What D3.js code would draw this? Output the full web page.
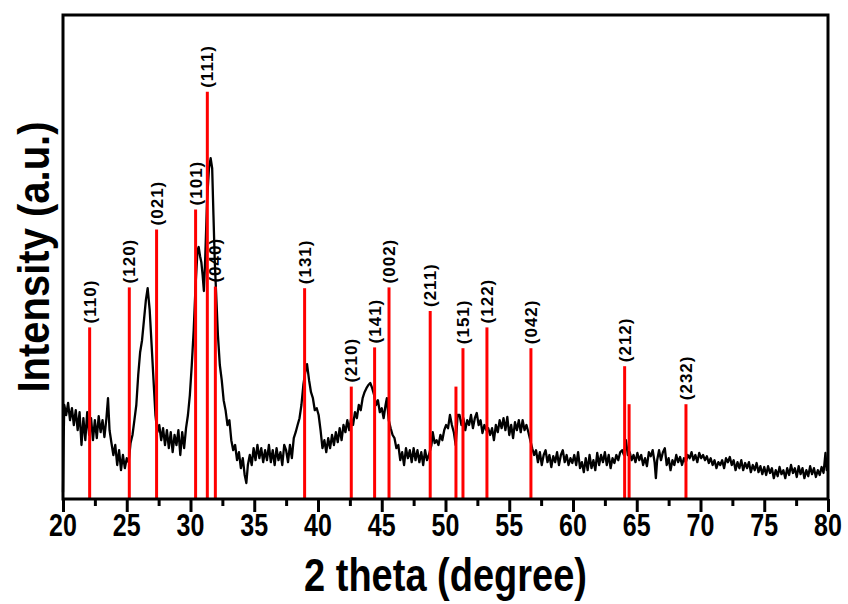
<!DOCTYPE html>
<html>
<head>
<meta charset="utf-8">
<script src="https://cdn.jsdelivr.net/npm/d3@7"></script>
<style>
  body { margin: 0; background: #fff; }
  text { font-family: "Liberation Sans", Arial, sans-serif; font-weight: bold; fill: #000; }
</style>
</head>
<body>
<svg id="chart" width="848" height="604"></svg>
<script>
// measured pattern, [2 theta, intensity]
const pattern = [
  [20.00,17],[20.05,147],[20.10,235],[20.25,210],[20.40,240],[20.55,197],[20.70,227],[20.85,185],[21.00,222],[21.15,172],
  [21.30,217],[21.45,135],[21.60,202],[21.75,147],[21.90,217],[22.05,160],[22.20,202],[22.35,147],[22.50,197],[22.65,152],
  [22.80,207],[22.95,167],[23.10,197],[23.25,155],[23.40,200],[23.53,252],[23.65,172],[23.80,140],[23.95,110],[24.10,135],
  [24.25,85],[24.40,122],[24.55,72],[24.70,110],[24.85,77],[25.00,102],[25.15,92],[25.30,140],[25.45,160],[25.60,197],
  [25.75,235],[25.90,310],[26.05,367],[26.20,397],[26.35,447],[26.50,497],[26.64,527],[26.80,472],[26.95,385],[27.10,297],
  [27.25,210],[27.40,167],[27.55,185],[27.70,147],[27.85,177],[28.00,135],[28.15,172],[28.30,127],[28.45,167],[28.60,117],
  [28.75,160],[28.90,135],[29.05,172],[29.20,110],[29.35,167],[29.50,127],[29.65,177],[29.80,210],[29.95,260],[30.10,335],
  [30.25,422],[30.40,535],[30.55,622],[30.64,630],[30.75,607],[30.85,592],[30.95,560],[31.05,520],[31.15,597],[31.30,747],
  [31.45,827],[31.58,852],[31.70,827],[31.80,710],[31.90,597],[32.00,522],[32.15,410],[32.30,335],[32.45,297],[32.60,247],
  [32.75,222],[32.90,185],[33.05,197],[33.20,147],[33.35,122],[33.50,135],[33.65,97],[33.80,117],[33.95,77],[34.10,102],
  [34.25,60],[34.38,40],[34.50,85],[34.65,110],[34.80,85],[34.95,127],[35.10,97],[35.25,135],[35.40,102],[35.55,127],
  [35.70,92],[35.85,122],[36.00,97],[36.15,135],[36.30,92],[36.45,122],[36.60,85],[36.75,127],[36.90,97],[37.05,117],
  [37.20,85],[37.35,135],[37.50,122],[37.65,92],[37.80,135],[37.95,102],[38.10,152],[38.25,167],[38.40,185],[38.55,202],
  [38.70,235],[38.85,285],[39.00,317],[39.14,337],[39.30,297],[39.45,267],[39.60,252],[39.75,222],[39.90,227],[40.05,210],
  [40.20,172],[40.35,127],[40.50,147],[40.65,117],[40.80,152],[40.95,127],[41.10,160],[41.25,135],[41.40,167],[41.55,142],
  [41.70,177],[41.85,147],[42.00,185],[42.15,167],[42.30,197],[42.45,172],[42.60,202],[42.75,185],[42.90,217],[43.05,202],
  [43.20,235],[43.35,222],[43.50,252],[43.65,267],[43.80,277],[43.95,285],[44.10,290],[44.25,277],[44.40,260],[44.55,235],
  [44.70,247],[44.85,217],[45.00,227],[45.15,202],[45.30,235],[45.40,252],[45.55,197],[45.70,177],[45.85,160],[46.00,152],
  [46.15,127],[46.30,135],[46.45,97],[46.60,117],[46.75,85],[46.90,127],[47.05,102],[47.20,122],[47.35,92],[47.50,127],
  [47.65,97],[47.80,122],[47.95,92],[48.10,117],[48.25,85],[48.40,122],[48.55,97],[48.70,110],[48.90,135],[49.00,167],
  [49.15,140],[49.30,147],[49.45,135],[49.60,160],[49.75,147],[49.90,172],[50.05,185],[50.20,177],[50.35,210],[50.50,185],
  [50.65,167],[50.80,135],[50.95,210],[51.10,210],[51.25,185],[51.40,202],[51.55,172],[51.70,197],[51.85,185],[52.00,210],
  [52.15,177],[52.30,202],[52.45,215],[52.60,185],[52.75,197],[52.90,165],[53.05,185],[53.20,172],[53.35,177],[53.50,160],
  [53.65,177],[53.80,147],[53.95,185],[54.10,167],[54.25,197],[54.40,177],[54.55,202],[54.70,172],[54.85,205],[55.00,160],
  [55.15,185],[55.30,152],[55.45,192],[55.60,172],[55.75,197],[55.90,167],[56.05,197],[56.20,172],[56.35,185],[56.50,167],
  [56.65,147],[56.80,127],[56.95,110],[57.10,122],[57.25,92],[57.40,117],[57.55,85],[57.70,110],[57.85,122],[58.00,92],
  [58.15,110],[58.30,80],[58.45,107],[58.60,92],[58.75,117],[58.90,85],[59.05,110],[59.20,122],[59.35,92],[59.50,110],
  [59.65,85],[59.80,102],[59.95,90],[60.10,110],[60.25,85],[60.40,117],[60.55,77],[60.70,92],[60.85,67],[61.00,102],
  [61.15,72],[61.30,110],[61.45,77],[61.60,97],[61.75,72],[61.90,115],[62.05,85],[62.20,110],[62.35,92],[62.50,117],
  [62.65,85],[62.80,110],[62.95,77],[63.10,102],[63.25,90],[63.40,110],[63.55,97],[63.70,117],[63.85,122],[64.00,110],
  [64.15,147],[64.30,110],[64.45,117],[64.60,97],[64.75,110],[64.90,92],[65.05,115],[65.20,97],[65.35,110],[65.50,85],
  [65.65,102],[65.80,82],[65.95,117],[66.10,107],[66.25,122],[66.40,92],[66.50,52],[66.60,97],[66.75,122],[66.90,97],
  [67.05,117],[67.20,127],[67.35,85],[67.50,102],[67.65,72],[67.80,97],[67.95,85],[68.10,110],[68.25,92],[68.40,105],
  [68.55,85],[68.70,102],[68.85,92],[69.00,110],[69.15,102],[69.30,117],[69.45,97],[69.60,110],[69.75,92],[69.90,115],
  [70.05,102],[70.20,110],[70.35,97],[70.50,107],[70.65,90],[70.80,102],[70.95,85],[71.10,97],[71.25,77],[71.40,92],
  [71.55,85],[71.70,97],[71.85,77],[72.00,102],[72.15,92],[72.30,105],[72.45,85],[72.60,97],[72.75,72],[72.90,92],
  [73.05,77],[73.20,97],[73.35,72],[73.50,90],[73.65,77],[73.80,92],[73.95,67],[74.10,85],[74.25,72],[74.40,90],
  [74.55,67],[74.70,82],[74.85,62],[75.00,80],[75.15,60],[75.30,82],[75.45,65],[75.60,77],[75.75,52],[75.90,72],
  [76.05,57],[76.20,80],[76.35,62],[76.50,72],[76.65,52],[76.80,77],[76.95,60],[77.10,85],[77.25,65],[77.40,77],
  [77.55,55],[77.70,82],[77.85,62],[78.00,77],[78.15,52],[78.30,72],[78.45,57],[78.60,82],[78.75,62],[78.90,77],
  [79.05,55],[79.20,72],[79.35,60],[79.50,80],[79.65,65],[79.80,115],[79.90,72],[80.00,85]
];

// reference sticks
const stickPos = [22.09, 25.2, 27.34, 30.4, 31.32, 31.95, 38.95, 42.61, 44.44, 45.57, 48.8, 50.82, 51.37, 53.25, 56.7, 64.05, 64.4, 68.86];
const stickInt = [429, 529, 674, 724, 1018, 531, 527, 281, 379, 529, 470, 281, 377, 429, 377, 332, 237, 237];
const stickLabels = ["(110)", "(120)", "(021)", "(101)", "(111)", "(040)", "(131)", "(210)", "(141)", "(002)", "(211)", "", "(151)", "(122)", "(042)", "(212)", "", "(232)"];

const xTicks = [20, 25, 30, 35, 40, 45, 50, 55, 60, 65, 70, 75, 80];
const xMinor = [22.5, 27.5, 32.5, 37.5, 42.5, 47.5, 52.5, 57.5, 62.5, 67.5, 72.5, 77.5];

const margin = { top: 15, right: 20, bottom: 105, left: 63 };
const width = 848 - margin.left - margin.right;
const height = 604 - margin.top - margin.bottom;

const svg = d3.select("#chart");
const g = svg.append("g")
    .attr("transform", `translate(${margin.left}, ${margin.top})`);

const x = d3.scaleLinear().domain([20, 80]).range([0, width]);
const y = d3.scaleLinear().domain([0, 1210]).range([height, 0]);

// measured pattern
g.append("path")
    .datum(pattern)
    .attr("fill", "none")
    .attr("stroke", "#000")
    .attr("stroke-width", 2.3)
    .attr("stroke-linejoin", "round")
    .attr("d", d3.line().x(d => x(d[0])).y(d => y(d[1])));

// sticks
const sticks = stickPos.map((p, i) => ({ pos: p, int: stickInt[i], label: stickLabels[i] }));

g.selectAll(".stick")
    .data(sticks)
    .enter()
    .append("line")
    .attr("class", "stick")
    .attr("x1", d => x(d.pos))
    .attr("x2", d => x(d.pos))
    .attr("y1", y(0))
    .attr("y2", d => y(d.int))
    .attr("stroke", "#f00")
    .attr("stroke-width", 3);

g.selectAll(".hkl")
    .data(sticks.filter(d => d.label))
    .enter()
    .append("text")
    .attr("class", "hkl")
    .attr("transform", d => `translate(${x(d.pos) + 6}, ${y(d.int) - 4}) rotate(-90)`)
    .style("font-size", "17px")
    .style("letter-spacing", "1px")
    .text(d => d.label);

// bottom ticks
g.append("g")
    .attr("transform", `translate(0, ${height})`)
    .call(d3.axisBottom(x).tickValues(xTicks).tickSize(13).tickSizeOuter(0).tickFormat(""))
    .call(a => a.select(".domain").remove())
    .selectAll("line").attr("stroke-width", 3);

g.append("g")
    .attr("transform", `translate(0, ${height})`)
    .call(d3.axisBottom(x).tickValues(xMinor).tickSize(7).tickSizeOuter(0).tickFormat(""))
    .call(a => a.select(".domain").remove())
    .selectAll("line").attr("stroke-width", 3);

g.selectAll(".tick-label")
    .data(xTicks)
    .enter()
    .append("text")
    .attr("class", "tick-label")
    .attr("transform", d => `translate(${x(d)}, ${height + 37}) scale(1, 1.25)`)
    .attr("text-anchor", "middle")
    .style("font-size", "25px")
    .text(d => d);

// frame
g.append("rect")
    .attr("width", width)
    .attr("height", height)
    .attr("fill", "none")
    .attr("stroke", "#000")
    .attr("stroke-width", 3);

// axis titles
svg.append("text")
    .attr("transform", `translate(${margin.left + width / 2}, 591) scale(1, 1.22)`)
    .attr("text-anchor", "middle")
    .style("font-size", "38px")
    .text("2 theta (degree)");

svg.append("text")
    .attr("transform", `translate(49, 257) rotate(-90) scale(1, 1.12)`)
    .attr("text-anchor", "middle")
    .style("font-size", "40px")
    .text("Intensity (a.u.)");
</script>
</body>
</html>
